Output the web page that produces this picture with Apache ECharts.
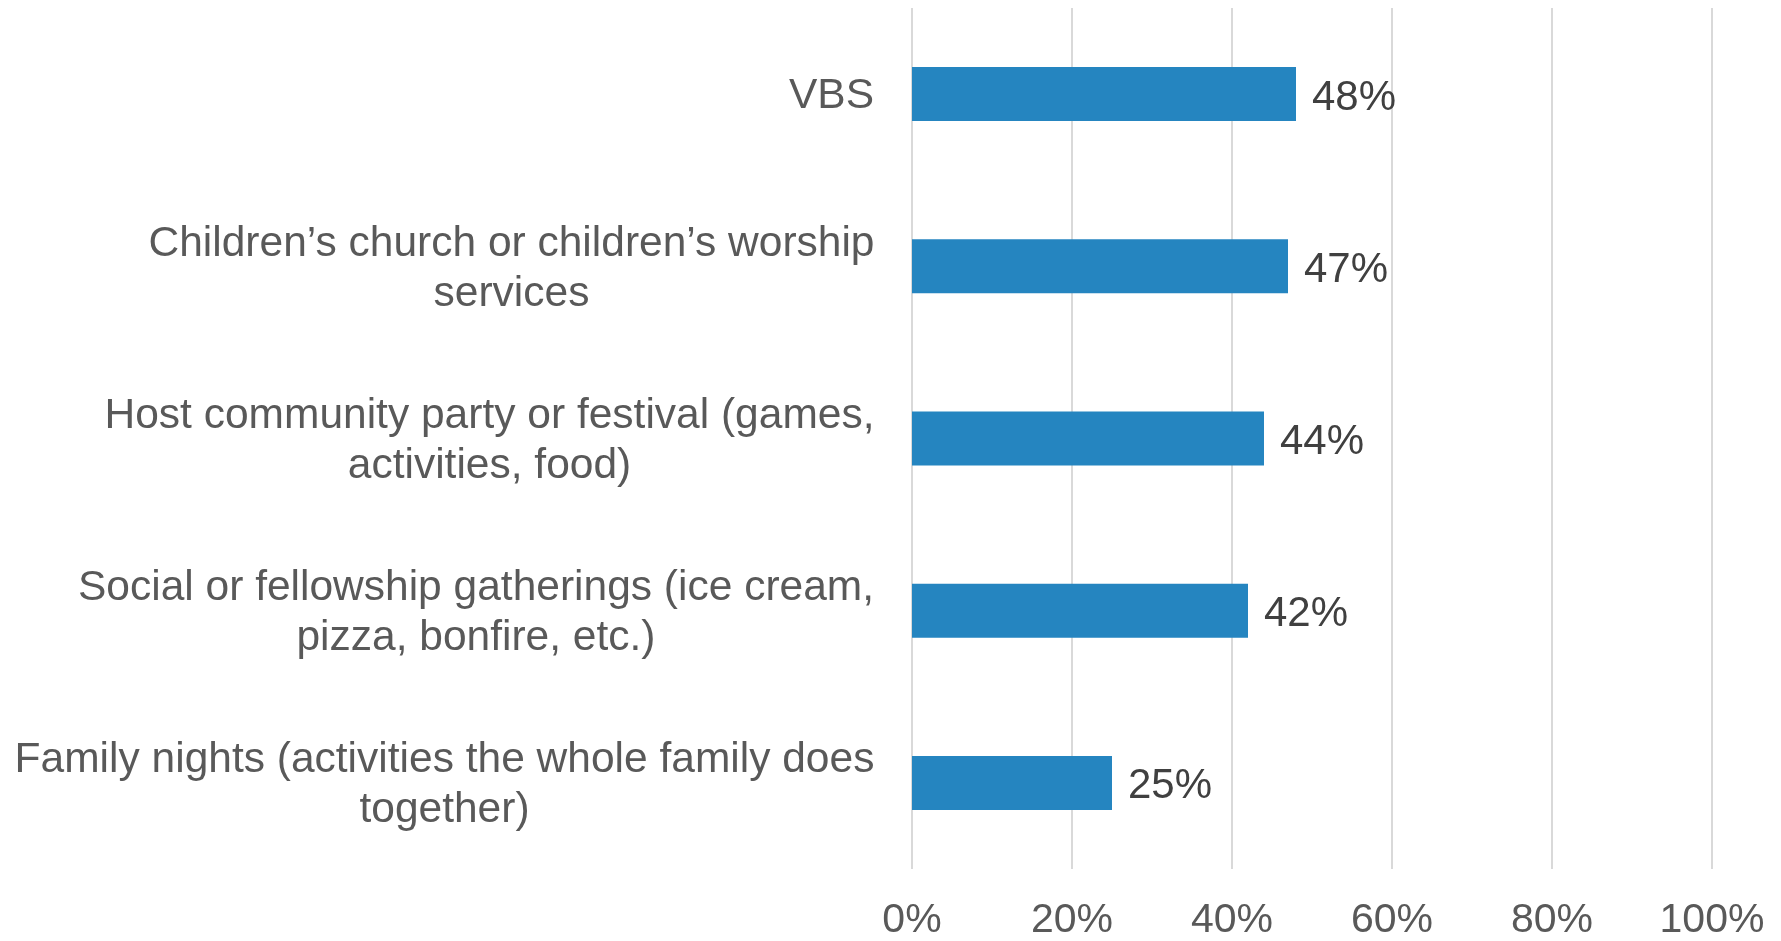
<!DOCTYPE html>
<html>
<head>
<meta charset="utf-8">
<script src="https://cdn.jsdelivr.net/npm/echarts@6/dist/echarts.min.js"></script>
<style>
html,body{margin:0;padding:0;background:#fff;}
#chart{width:1781px;height:941px;}
</style>
</head>
<body>
<div id="chart"></div>
<script>
const categories = [
  "VBS",
  "Children’s church or children’s worship\nservices",
  "Host community party or festival (games,\nactivities, food)",
  "Social or fellowship gatherings (ice cream,\npizza, bonfire, etc.)",
  "Family nights (activities the whole family does\ntogether)"
];
const values = [48, 47, 44, 42, 25];
const tickLabels = ["0%", "20%", "40%", "60%", "80%", "100%"];

const FONT = '"Liberation Sans", Arial, sans-serif';
const CAT_FS = 42.5;
const ctx = document.createElement('canvas').getContext('2d');
ctx.font = CAT_FS + 'px ' + FONT;
const rich = {};
categories.forEach((c, i) => {
  const w = Math.max(...c.split('\n').map(l => ctx.measureText(l).width));
  rich['l' + i] = { width: Math.ceil(w) + 1, align: 'center', fontSize: CAT_FS, fontFamily: FONT, color: '#595959', lineHeight: 50, padding: [5, 0, 0, 0] };
});

const chart = echarts.init(document.getElementById('chart'), null, { renderer: 'canvas' });
chart.setOption({
  animation: false,
  grid: { left: 912, right: 69, top: 8, bottom: 71, containLabel: false },
  xAxis: {
    type: 'value', min: 0, max: 100, interval: 20,
    axisLine: { show: false }, axisTick: { show: false },
    splitLine: { show: true, lineStyle: { color: '#D9D9D9', width: 2 } },
    axisLabel: {
      formatter: v => tickLabels[Math.round(v / 20)],
      fontSize: 41, fontFamily: FONT, color: '#595959', margin: 31
    }
  },
  yAxis: {
    type: 'category', inverse: true, data: categories,
    axisLine: { show: false }, axisTick: { show: false },
    axisLabel: {
      margin: 37, align: 'right',
      formatter: (v, idx) => v.split('\n').map(l => '{l' + idx + '|' + l + '}').join('\n'),
      rich: rich
    }
  },
  series: [{
    type: 'bar', data: values, barWidth: 54,
    itemStyle: { color: '#2585C0' },
    label: {
      show: true, position: 'right', distance: 16, offset: [0, 4],
      formatter: p => p.value + '%',
      fontSize: 42, fontFamily: FONT, color: '#404040'
    }
  }]
});
</script>
</body>
</html>
